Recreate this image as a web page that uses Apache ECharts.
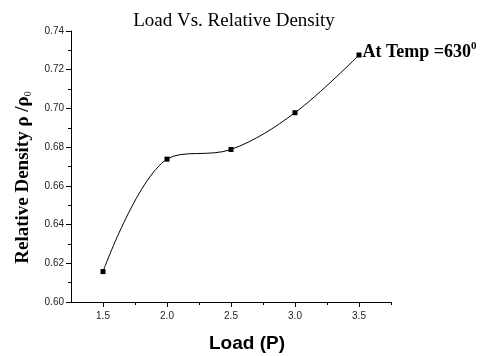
<!DOCTYPE html>
<html>
<head>
<meta charset="utf-8">
<script src="https://cdn.jsdelivr.net/npm/echarts@6/dist/echarts.min.js"></script>
<style>
  html, body { margin: 0; padding: 0; background: #fff; }
  #chart { width: 487px; height: 356px; }
</style>
</head>
<body>
<div id="chart"></div>
<script>
// Load values and measured relative density
const loads = [1.5, 2.0, 2.5, 3.0, 3.5];
const density = [0.6157, 0.6738, 0.6788, 0.6978, 0.7276];
const xTicks = [1.5, 2.0, 2.5, 3.0, 3.5];
const xMinorTicks = [1.75, 2.25, 2.75, 3.25, 3.75];
const yTicks = [0.60, 0.62, 0.64, 0.66, 0.68, 0.70, 0.72, 0.74];

const chart = echarts.init(document.getElementById('chart'));

const points = loads.map((x, i) => [x, density[i]]);
const serif = '"Liberation Serif", "DejaVu Serif", serif';
const sans = '"Liberation Sans", Arial, sans-serif';

chart.setOption({
  animation: false,
  backgroundColor: '#ffffff',
  title: {
    text: 'Load Vs. Relative Density',
    left: 229,
    textAlign: 'center',
    top: 7,
    textStyle: { fontFamily: serif, fontWeight: 'normal', fontSize: 19, color: '#000' }
  },
  grid: { left: 71, top: 31, right: 96, bottom: 54, outerBoundsMode: 'none' },
  xAxis: [{
    type: 'value',
    min: 1.25,
    max: 3.75,
    name: 'Load (P)',
    nameLocation: 'middle',
    nameGap: 32,
    nameTextStyle: {
      fontFamily: sans, fontWeight: 'bold', fontSize: 19, lineHeight: 19, color: '#000',
      padding: [0, 0, 0, 32]
    },
    axisLine: { show: true, lineStyle: { color: '#000', width: 1 } },
    axisTick: { show: true, length: 5, customValues: xTicks, lineStyle: { color: '#000' } },
    splitLine: { show: false },
    axisLabel: {
      customValues: xTicks,
      color: '#222',
      fontFamily: sans,
      fontSize: 10,
      margin: 9,
      formatter: v => v.toFixed(1)
    }
  }, {
    // minor ticks between the labelled loads
    type: 'value',
    position: 'bottom',
    min: 1.25,
    max: 3.75,
    axisLine: { show: false },
    axisTick: { show: true, length: 3, customValues: xMinorTicks, lineStyle: { color: '#000' } },
    axisLabel: { show: false },
    splitLine: { show: false }
  }],
  yAxis: {
    type: 'value',
    min: 0.60,
    max: 0.74,
    interval: 0.02,
    name: '{b|Relative Density \u03c1 /\u03c1}{s|0}',
    nameLocation: 'middle',
    nameGap: 33,
    nameRotate: 90,
    nameTextStyle: {
      padding: [0, 22, 0, 0],
      rich: {
        b: { fontFamily: serif, fontWeight: 'bold', fontSize: 19, color: '#000' },
        s: { fontFamily: serif, fontWeight: 'normal', fontSize: 10, color: '#000', padding: [12, 0, 0, 0] }
      }
    },
    axisLine: { show: true, lineStyle: { color: '#000', width: 1 } },
    axisTick: { show: true, length: 5, lineStyle: { color: '#000' } },
    minorTick: { show: true, splitNumber: 2, length: 3, lineStyle: { color: '#000' } },
    splitLine: { show: false },
    minorSplitLine: { show: false },
    axisLabel: {
      color: '#222',
      fontFamily: sans,
      fontSize: 10,
      margin: 7,
      formatter: v => v.toFixed(2)
    }
  },
  series: [{
    type: 'line',
    data: points,
    smooth: 0.35,
    symbol: 'rect',
    symbolSize: 5,
    itemStyle: { color: '#000' },
    lineStyle: { color: '#000', width: 1 },
    label: {
      show: true,
      position: 'right',
      distance: 1,
      offset: [0, -3],
      formatter: p => p.dataIndex === loads.length - 1 ? '{t|At Temp =630}{sup|0}' : '',
      rich: {
        t: { fontFamily: serif, fontWeight: 'bold', fontSize: 18, color: '#000' },
        sup: { fontFamily: serif, fontWeight: 'bold', fontSize: 11, color: '#000', padding: [0, 0, 11, 0] }
      }
    }
  }]
});
</script>
</body>
</html>
